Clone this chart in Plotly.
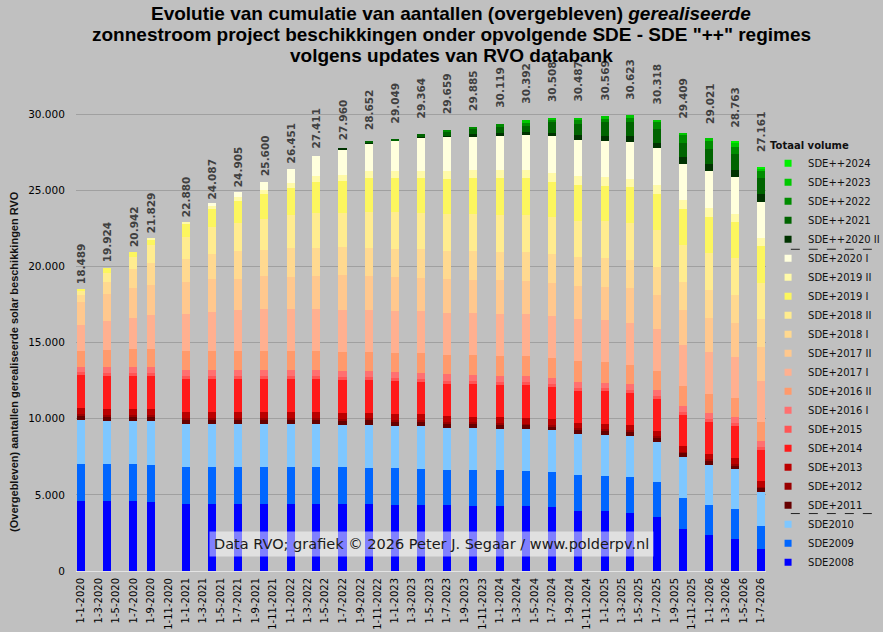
import plotly.graph_objects as go

# update dates of the RVO databank (one bar per update)
dates = ["2020-01-01", "2020-04-01", "2020-07-01", "2020-09-01",
         "2021-01-01", "2021-04-01", "2021-07-01", "2021-10-01",
         "2022-01-01", "2022-04-01", "2022-07-01", "2022-10-01",
         "2023-01-01", "2023-04-01", "2023-07-01", "2023-10-01",
         "2024-01-01", "2024-04-01", "2024-07-01", "2024-10-01",
         "2025-01-01", "2025-04-01", "2025-07-01", "2025-10-01",
         "2026-01-01", "2026-04-01", "2026-07-01"]

totals = [18489, 19924, 20942, 21829, 22880, 24087, 24905, 25600, 26451,
          27411, 27960, 28652, 29049, 29364, 29659, 29885, 30119, 30392,
          30508, 30487, 30569, 30623, 30318, 29409, 29021, 28763, 27161]

sde2008 = [4600, 4600, 4600, 4540, 4410, 4410, 4410, 4410, 4410, 4410, 4410, 4410, 4340, 4340,
           4340, 4280, 4280, 4280, 4210, 3950, 3950, 3820, 3550, 2760, 2370, 2110, 1450]
sde2009 = [2430, 2430, 2430, 2430, 2430, 2430, 2430, 2430, 2430, 2430, 2430, 2370, 2430, 2370,
           2300, 2370, 2370, 2300, 2300, 2370, 2300, 2370, 2300, 2040, 1970, 1970, 1510]
sde2010 = [2900, 2830, 2830, 2900, 2830, 2830, 2830, 2830, 2830, 2830, 2760, 2830, 2760, 2830,
           2760, 2760, 2700, 2760, 2760, 2700, 2700, 2700, 2630, 2700, 2630, 2630, 2240]
sdep2011 = [300, 300, 300, 300, 300, 300, 300, 300, 300, 300, 310, 310, 310, 290,
            290, 290, 290, 250, 250, 300, 300, 300, 300, 250, 300, 250, 260]
sdep2012 = [100, 100, 100, 100, 100, 100, 100, 100, 100, 100, 100, 100, 100, 100,
            100, 100, 100, 80, 80, 100, 100, 100, 100, 80, 100, 80, 90]
sdep2013 = [400, 370, 370, 370, 400, 400, 400, 400, 400, 400, 370, 370, 370, 390,
            390, 330, 390, 390, 390, 330, 330, 330, 330, 390, 330, 390, 370]
sdep2014 = [2170, 2170, 2170, 2170, 2170, 2170, 2170, 2170, 2170, 2170, 2170, 2170, 2170, 2100,
            2100, 2170, 2100, 2170, 2100, 2100, 2170, 2100, 2100, 2040, 2100, 2100, 2040]
sdep2015 = [180, 200, 200, 200, 200, 200, 200, 200, 200, 200, 200, 200, 200, 200,
            230, 200, 200, 200, 200, 200, 180, 200, 200, 200, 200, 200, 200]
sdep2016_1 = [320, 390, 390, 390, 390, 390, 390, 390, 390, 390, 390, 390, 390, 390,
              430, 390, 390, 390, 390, 390, 350, 390, 390, 390, 390, 390, 390]
sdep2016_2 = [1070, 1120, 1180, 1180, 1250, 1250, 1250, 1250, 1250, 1250, 1250, 1250, 1250, 1320,
              1250, 1320, 1320, 1320, 1320, 1320, 1320, 1250, 1250, 1320, 1250, 1250, 1250]
sdep2017_1 = [1710, 1910, 2040, 2240, 2370, 2500, 2630, 2700, 2700, 2700, 2760, 2760, 2760, 2760,
              2760, 2760, 2760, 2760, 2760, 2760, 2760, 2760, 2760, 2700, 2760, 2700, 2700]
sdep2017_2 = [1470, 1780, 1970, 1970, 2130, 2170, 2100, 2170, 2150, 2190, 2260, 2240, 2240, 2170,
              2240, 2170, 2240, 2170, 2170, 2190, 2170, 2240, 2240, 2240, 2240, 2240, 2240]
sdep2018_1 = [500, 790, 1250, 1470, 1540, 1640, 1780, 1760, 1860, 1870, 1840, 1840, 1840, 1910,
              1840, 1910, 1840, 1910, 1910, 1910, 1910, 1840, 1840, 1840, 1840, 1840, 1840]
sdep2018_2 = [220, 590, 790, 1120, 1420, 1800, 1870, 2020, 2170, 2260, 2260, 2370, 2430, 2370,
              2430, 2430, 2430, 2430, 2430, 2370, 2430, 2430, 2430, 2430, 2430, 2430, 2350]
sdep2019_1 = [180, 330, 330, 420, 840, 1160, 1470, 1660, 1780, 2060, 2130, 2170, 2240, 2300,
              2300, 2300, 2370, 2370, 2300, 2350, 2300, 2370, 2370, 2370, 2370, 2370, 2390]
sdep2019_2 = [0, 0, 0, 90, 150, 220, 240, 260, 330, 390, 375, 460, 460, 460,
              530, 530, 530, 530, 590, 610, 590, 530, 590, 590, 530, 530, 530]
sdep2020_1 = [0, 0, 0, 0, 0, 180, 330, 530, 920, 1320, 1665, 1860, 1970, 2170,
              2240, 2240, 2300, 2300, 2390, 2350, 2370, 2430, 2370, 2370, 2430, 2430, 2390]
sdepp2020_2 = [0, 0, 0, 0, 0, 0, 0, 0, 0, 0, 65, 40, 40, 60,
               65, 130, 130, 200, 220, 330, 330, 390, 390, 460, 460, 460, 500]
sdepp2021 = [0, 0, 0, 0, 0, 0, 0, 0, 0, 0, 0, 90, 90, 140,
             260, 390, 460, 390, 700, 720, 900, 920, 920, 970, 990, 1050, 1050]
sdepp2022 = [0, 0, 0, 0, 0, 0, 0, 0, 0, 0, 0, 0, 0, 0,
             65, 65, 130, 200, 180, 280, 280, 330, 460, 550, 590, 460, 480]
sdepp2023 = [0, 0, 0, 0, 0, 0, 0, 0, 0, 0, 0, 0, 0, 0,
             0, 0, 0, 200, 110, 90, 130, 130, 130, 110, 130, 230, 180]
sdepp2024 = [0, 0, 0, 0, 0, 0, 0, 0, 0, 0, 0, 0, 0, 0,
             0, 0, 0, 0, 0, 0, 0, 0, 0, 0, 0, 100, 110]

title_lines = ["Evolutie van cumulatie van aantallen (overgebleven) <i>gerealiseerde</i>",
               "zonnestroom project beschikkingen onder opvolgende SDE - SDE \"++\" regimes",
               "volgens updates van RVO databank"]

# bottom to top
series = [
    ("SDE2008", sde2008, "#0000ff"),
    ("SDE2009", sde2009, "#0066ff"),
    ("SDE2010", sde2010, "#7fc7ff"),
    ("SDE+2011", sdep2011, "#660000"),
    ("SDE+2012", sdep2012, "#990000"),
    ("SDE+2013", sdep2013, "#bb0000"),
    ("SDE+2014", sdep2014, "#ff1a1a"),
    ("SDE+2015", sdep2015, "#ff5555"),
    ("SDE+2016 I", sdep2016_1, "#ff7070"),
    ("SDE+2016 II", sdep2016_2, "#ff9a6c"),
    ("SDE+2017 I", sdep2017_1, "#ffb090"),
    ("SDE+2017 II", sdep2017_2, "#ffc88e"),
    ("SDE+2018 I", sdep2018_1, "#ffd990"),
    ("SDE+2018 II", sdep2018_2, "#ffec8f"),
    ("SDE+2019 I", sdep2019_1, "#fcf65e"),
    ("SDE+2019 II", sdep2019_2, "#fffaa8"),
    ("SDE+2020 I", sdep2020_1, "#ffffdd"),
    ("SDE++2020 II", sdepp2020_2, "#003300"),
    ("SDE++2021", sdepp2021, "#006400"),
    ("SDE++2022", sdepp2022, "#008c00"),
    ("SDE++2023", sdepp2023, "#00c800"),
    ("SDE++2024", sdepp2024, "#00f000"),
]

DAY = 86400000
fig = go.Figure()

for name, vals, col in series:
    fig.add_trace(go.Bar(x=dates, y=vals, name=name, marker_color=col,
                         marker_line_width=0, width=28 * DAY, showlegend=False))

# small square legend entries, top entry first
for name, vals, col in reversed(series):
    fig.add_trace(go.Scatter(x=[None], y=[None], mode="markers", name=name,
                             marker=dict(symbol="square", size=7, color=col)))

# total labels above bars
for d, t in zip(dates, totals):
    fig.add_annotation(x=d, y=t, text="<b>" + f"{t:,}".replace(",", ".") + "</b>",
                       textangle=-90, showarrow=False, yanchor="bottom", yshift=3,
                       font=dict(family="DejaVu Sans", size=10.5, color="#404040"))

# title, one annotation per line
for line, yy in zip(title_lines, [1.1822, 1.1377, 1.0932]):
    fig.add_annotation(xref="paper", yref="paper", x=0.5435, y=yy, text="<b>" + line + "</b>",
                       showarrow=False, xanchor="center", yanchor="middle",
                       font=dict(family="Liberation Sans Narrow, Liberation Sans, sans-serif",
                                 size=19, color="#000"))

fig.add_annotation(xref="paper", yref="paper", x=0.5145, y=0.058,
                   xanchor="center", yanchor="middle",
                   text="Data RVO; grafiek © 2026 Peter J. Segaar / www.polderpv.nl",
                   showarrow=False, bgcolor="rgba(255,255,255,0.5)", borderpad=4,
                   font=dict(family="DejaVu Sans", size=14.5, color="#1a1a1a"))

fig.add_annotation(xref="paper", yref="paper", x=-0.0899, y=0.445,
                   xanchor="center", yanchor="middle",
                   text="<b>(Overgebleven) aantallen gerealiseerde solar beschikkingen RVO</b>",
                   textangle=-90, showarrow=False,
                   font=dict(family="Liberation Sans", size=11, color="#111"))

# dashed separators in the legend
for yy in [0.6816, 0.1217]:
    fig.add_shape(type="line", xref="paper", yref="paper", x0=1.036, x1=1.158,
                  y0=yy, y1=yy, line=dict(color="#222", width=1, dash="dash"))

fig.update_layout(
    width=883, height=632,
    barmode="stack",
    paper_bgcolor="#c0c0c0", plot_bgcolor="#c0c0c0",
    margin=dict(l=76, r=117, t=99, b=61, autoexpand=False),
    separators=",.",
    legend=dict(title=dict(text="<b>Totaal volume</b>", font=dict(size=10)),
                x=1.003, xanchor="left", y=0.922, yanchor="top", traceorder="normal",
                font=dict(family="DejaVu Sans", size=10, color="#111"),
                bgcolor="rgba(0,0,0,0)", tracegroupgap=0, itemwidth=30),
    xaxis=dict(type="date", range=["2019-12-14", "2026-07-18"], automargin=False,
               tick0="2020-01-01", dtick="M2", tickformat="%-d-%-m-%Y",
               tickangle=-90, showgrid=False, ticks="outside", ticklen=2,
               tickcolor="rgba(0,0,0,0)", showline=True, linecolor="#e4e4e4",
               tickfont=dict(family="DejaVu Sans", size=10, color="#000")),
    yaxis=dict(range=[0, 31000], dtick=5000, tickformat=",.0f", automargin=False,
               gridcolor="#a0a0a0", gridwidth=1, zeroline=False,
               ticks="outside", ticklen=8, tickcolor="rgba(0,0,0,0)",
               tickfont=dict(family="DejaVu Sans", size=10.5, color="#000")),
)

# the page gets the default 8px body margin; remove it so the figure fills the window
fig.write_html("out.html", config={"displayModeBar": False},
               post_script="document.body.style.margin='0';")
